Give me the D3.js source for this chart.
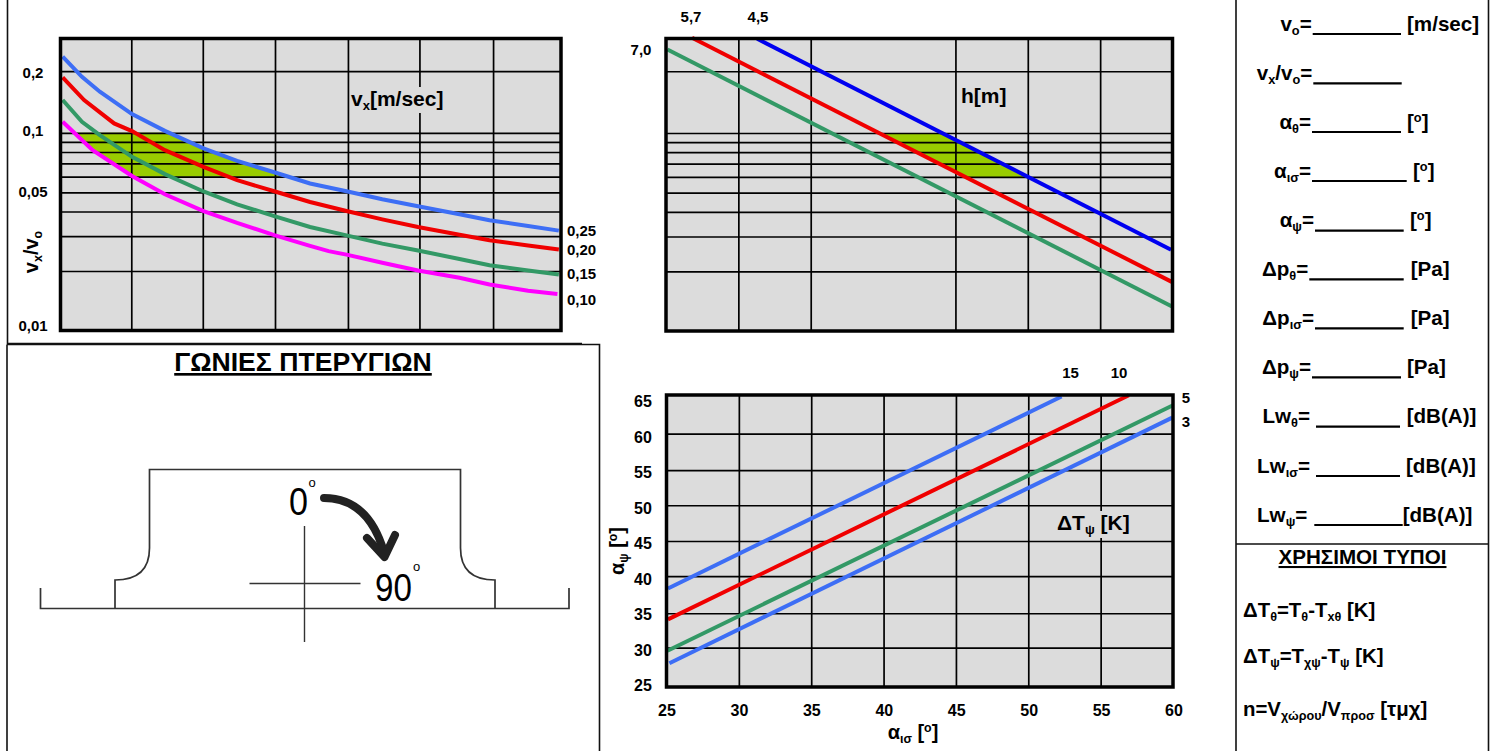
<!DOCTYPE html>
<html>
<head>
<meta charset="utf-8">
<script src="https://cdn.jsdelivr.net/npm/d3@7"></script>
<style>
  body { margin: 0; background: #fff; }
  svg { display: block; }
  text { font-family: "Liberation Sans", Arial, sans-serif; font-weight: bold; fill: #000; }
</style>
</head>
<body>
<script>
// --- chart 1: vx/vo against throw, curves per vx
const speedLabels = ["0,25", "0,20", "0,15", "0,10"];
const speedBlueX = [0.03, 0.3, 0.55, 1, 1.46, 2, 2.47, 3, 3.49, 4, 4.5, 5, 5.58, 6, 6.54, 6.97];
const speedBlueY = [0.2428, 0.192, 0.1614, 0.1244, 0.1023, 0.0834, 0.0721, 0.063, 0.0554, 0.0506, 0.0461, 0.0425, 0.0387, 0.0361, 0.0338, 0.032];
const speedRedX = [0.03, 0.33, 0.75, 1, 1.46, 2, 2.47, 3, 3.49, 4, 4.5, 5, 5.58, 6, 6.54, 6.97];
const speedRedY = [0.1909, 0.1465, 0.1116, 0.102, 0.0817, 0.0673, 0.0576, 0.0505, 0.0447, 0.0402, 0.0365, 0.0334, 0.0305, 0.0286, 0.0269, 0.0257];
const speedGreenX = [0.03, 0.3, 0.55, 1, 1.46, 2, 2.47, 3, 3.49, 4, 4.5, 5, 5.58, 6, 6.54, 6.97];
const speedGreenY = [0.1465, 0.1137, 0.0973, 0.0756, 0.0618, 0.0505, 0.0435, 0.0378, 0.0334, 0.0303, 0.0275, 0.0254, 0.023, 0.0214, 0.0201, 0.0192];
const speedPinkX = [0.03, 0.45, 1, 1.46, 2, 2.47, 3, 3.49, 3.75, 4, 4.5, 5, 5.58, 6, 6.54, 6.95];
const speedPinkY = [0.1137, 0.0817, 0.0605, 0.0489, 0.0402, 0.035, 0.0303, 0.0268, 0.0252, 0.0242, 0.022, 0.0201, 0.0185, 0.0171, 0.0159, 0.0153];
const speedGridX = [0.99, 1.99, 3, 4.02, 5.02, 6.05];
const ratioGrid = [0.205, 0.1, 0.09, 0.08, 0.07, 0.06, 0.05, 0.04, 0.03, 0.02];
const ratioLabels = ["0,2", "0,1", "0,05", "0,01"];

// --- chart 2: h[m]
const heightLabels = ["5,7", "4,5", "7,0"];
const heightBlueX = [31.3, 59.9];
const heightBlueY = [0.299, 0.0257];
const heightRedX = [26.8, 59.95];
const heightRedY = [0.3024, 0.0177];
const heightGreenX = [25.1, 60];
const heightGreenY = [0.2638, 0.01327];
const heightGridX = [30, 35, 45, 50, 55];

// --- chart 3: angle
const angleTicks = [25, 30, 35, 40, 45, 50, 55, 60];
const psiTicks = [25, 30, 35, 40, 45, 50, 55, 60, 65];
const psiGrid = [30.4, 35.1, 40.2, 45, 49.9, 54.7, 59.7];
const dtLabels = ["15", "10", "5", "3"];
const dt15X = [25.1, 52.3];
const dt15Y = [38.5, 64.8];
const dt10X = [25.1, 56.95];
const dt10Y = [34.27, 64.96];
const dt5X = [25.07, 60];
const dt5Y = [29.97, 63.6];
const dt3X = [25.2, 59.95];
const dt3Y = [28.25, 61.9];

const BLUE = "#3d6ef5", RED = "#f00000", GREEN = "#339966", PINK = "#ff00ff", DEEP = "#0000f0", FILL = "#99cc00";

const svg = d3.select("body").append("svg").attr("width", 1497).attr("height", 751);
svg.append("rect").attr("width", 1497).attr("height", 751).attr("fill", "#fff");
const defs = svg.append("defs");

function zip(xs, ys) { return xs.map((x, i) => [x, ys[i]]); }

// segments: plain string, or [text, "sub"] / [text, "sup"]
function rich(parent, x, y, size, segs, anchor) {
  const t = parent.append("text").attr("x", x).attr("y", y)
    .attr("font-size", size).attr("text-anchor", anchor || "start");
  let shift = 0;
  segs.forEach(s => {
    const kind = Array.isArray(s) ? s[1] : null;
    const want = kind === "sub" ? size * 0.2 : kind === "sup" ? -size * 0.35 : 0;
    t.append("tspan").attr("dy", want - shift)
      .attr("font-size", kind ? size * 0.62 : size)
      .text(Array.isArray(s) ? s[0] : s);
    shift = want;
  });
  return t;
}

function drawGrid(parent, box, x, y, gridX, gridY) {
  const gx = parent.append("g").attr("transform", "translate(0," + box.bottom + ")")
    .call(d3.axisBottom(x).tickValues(gridX).tickSize(box.top - box.bottom).tickFormat(""));
  const gy = parent.append("g").attr("transform", "translate(" + box.left + ",0)")
    .call(d3.axisLeft(y).tickValues(gridY).tickSize(box.left - box.right).tickFormat(""));
  [gx, gy].forEach(a => {
    a.select(".domain").remove();
    a.selectAll("line").attr("stroke", "#000").attr("stroke-width", 1.7);
  });
}

function plot(box) {
  svg.append("rect").attr("x", box.left).attr("y", box.top)
    .attr("width", box.right - box.left).attr("height", box.bottom - box.top).attr("fill", "#dcdcdc");
}

function frame(box) {
  svg.append("rect").attr("x", box.left).attr("y", box.top)
    .attr("width", box.right - box.left).attr("height", box.bottom - box.top)
    .attr("fill", "none").attr("stroke", "#000").attr("stroke-width", 3.5);
}

function curve(x, y, pts, color) {
  svg.append("path").attr("d", d3.line().x(d => x(d[0])).y(d => y(d[1]))(pts))
    .attr("fill", "none").attr("stroke", color).attr("stroke-width", 4);
}

// operating band between two curves, cut to the 0.1 .. 0.06 rows
function band(id, box, x, y, upper, lower) {
  defs.append("clipPath").attr("id", id).append("rect")
    .attr("x", box.left).attr("width", box.right - box.left)
    .attr("y", y(0.1)).attr("height", y(0.06) - y(0.1));
  svg.append("path").attr("clip-path", "url(#" + id + ")")
    .attr("d", d3.line().x(d => x(d[0])).y(d => y(d[1]))(upper.concat(lower.slice().reverse())) + "Z")
    .attr("fill", FILL);
}

function patch(x, y, w, h) {
  svg.append("rect").attr("x", x).attr("y", y).attr("width", w).attr("height", h).attr("fill", "#dcdcdc");
}

// ---------- chart 1
const box1 = { left: 60.5, right: 561, top: 38.5, bottom: 330.5 };
const x1 = d3.scaleLinear().domain([0, 7]).range([box1.left, box1.right]);
const y1 = d3.scaleLog().domain([0.01, 0.3]).range([box1.bottom, box1.top]);
plot(box1);
const pinkPts = zip(speedPinkX, speedPinkY), bluePts = zip(speedBlueX, speedBlueY);
band("band1", box1, x1, y1, bluePts, pinkPts);
drawGrid(svg, box1, x1, y1, speedGridX, ratioGrid);
patch(350, 87, 95, 26);
curve(x1, y1, bluePts, BLUE);
curve(x1, y1, zip(speedRedX, speedRedY), RED);
curve(x1, y1, zip(speedGreenX, speedGreenY), GREEN);
curve(x1, y1, pinkPts, PINK);
frame(box1);
rich(svg, 351, 106, 21, ["v", ["x", "sub"], "[m/sec]"]);

const leftPos1 = [78, 136, 197, 331];
ratioLabels.forEach((t, i) => {
  svg.append("text").attr("x", 33).attr("y", leftPos1[i]).attr("text-anchor", "middle")
    .attr("font-size", 15).text(t);
});
const rightPos1 = [236, 255, 278.5, 305];
speedLabels.forEach((t, i) => {
  svg.append("text").attr("x", 567).attr("y", rightPos1[i]).attr("font-size", 15).text(t);
});
rich(svg, 0, 0, 20, ["v", ["x", "sub"], "/v", ["o", "sub"]], "middle")
  .attr("x", null).attr("y", null).attr("transform", "translate(38,252) rotate(-90)");

// ---------- chart 2
const box2 = { left: 666, right: 1172.5, top: 38.5, bottom: 331 };
const x2 = d3.scaleLinear().domain([25, 60]).range([box2.left, box2.right]);
const y2 = d3.scaleLog().domain([0.01, 0.3]).range([box2.bottom, box2.top]);
plot(box2);
const deepPts = zip(heightBlueX, heightBlueY), redPts = zip(heightRedX, heightRedY);
band("band2", box2, x2, y2, deepPts, redPts);
drawGrid(svg, box2, x2, y2, heightGridX, ratioGrid);
curve(x2, y2, deepPts, DEEP);
curve(x2, y2, redPts, RED);
curve(x2, y2, zip(heightGreenX, heightGreenY), GREEN);
frame(box2);
rich(svg, 961, 103, 21, ["h[m]"]);
[[691, 22], [758, 22], [641, 55]].forEach((p, i) => {
  svg.append("text").attr("x", p[0]).attr("y", p[1]).attr("text-anchor", "middle")
    .attr("font-size", 15).text(heightLabels[i]);
});

// ---------- chart 3
const box3 = { left: 666.5, right: 1173, top: 395, bottom: 687 };
const x3 = d3.scaleLinear().domain([25, 60]).range([box3.left, box3.right]);
const y3 = d3.scaleLinear().domain([25, 65]).range([box3.bottom, box3.top]);
plot(box3);
drawGrid(svg, box3, x3, y3, angleTicks.slice(1, -1), psiGrid);
patch(1056, 511, 76, 27);
curve(x3, y3, zip(dt15X, dt15Y), BLUE);
curve(x3, y3, zip(dt10X, dt10Y), RED);
curve(x3, y3, zip(dt5X, dt5Y), GREEN);
curve(x3, y3, zip(dt3X, dt3Y), BLUE);
frame(box3);
rich(svg, 1057, 530, 21, ["ΔT", ["ψ", "sub"], " [K]"]);

// tick labels sit a little off the grid in the original
const psiLabelY = d3.scaleLinear().domain([25, 65]).range([691, 407]);
psiTicks.forEach(v => {
  svg.append("text").attr("x", 643).attr("y", psiLabelY(v)).attr("text-anchor", "middle")
    .attr("font-size", 16).text(v);
});
const angleLabelX = d3.scaleLinear().domain([25, 60]).range([667, 1174]);
angleTicks.forEach(v => {
  svg.append("text").attr("x", angleLabelX(v)).attr("y", 716).attr("text-anchor", "middle")
    .attr("font-size", 16).text(v);
});
[[1070.5, 378], [1119, 378], [1186, 403], [1186, 427]].forEach((p, i) => {
  svg.append("text").attr("x", p[0]).attr("y", p[1]).attr("text-anchor", "middle")
    .attr("font-size", 15).text(dtLabels[i]);
});
rich(svg, 913, 739, 20, ["α", ["ισ", "sub"], " [", ["o", "sup"], "]"], "middle");
rich(svg, 0, 0, 20, ["α", ["ψ", "sub"], " [", ["o", "sup"], "]"], "middle")
  .attr("x", null).attr("y", null).attr("transform", "translate(624,551) rotate(-90)");

// ---------- panel borders
svg.append("path").attr("fill", "none").attr("stroke", "#111").attr("stroke-width", 1.6)
  .attr("d", "M7.5,0V343.5H582 M7,344.5H599.5V751 M7,344.5V751 M1236,0V751 M1488.5,0V751 M1236,544H1488.5");

// ---------- blade angle sketch
rich(svg, 303, 371, 26.6, ["ΓΩΝΙΕΣ ΠΤΕΡΥΓΙΩΝ"], "middle").attr("text-decoration", "underline");
const sketch = svg.append("g").attr("fill", "none").attr("stroke", "#333");
sketch.append("path").attr("stroke-width", 1.7)
  .attr("d", "M40.5,588V608.5H569V588 M115,608.5V580Q149.5,580 149.5,548V469.5H460.5V548Q460.5,580 495,580V608.5");
sketch.append("path").attr("stroke-width", 1.4).attr("d", "M304.5,526V642 M249.5,583.5H360.5");
sketch.append("path").attr("stroke", "#222").attr("stroke-width", 8).attr("stroke-linecap", "round")
  .attr("d", "M324,498Q368,498 384,552");
sketch.append("path").attr("stroke", "#222").attr("stroke-width", 8).attr("stroke-linecap", "round")
  .attr("stroke-linejoin", "round").attr("d", "M367,538L384.5,557L395,535");
// narrow thin digits of the sketch
const thin = (x, y, size, t, sx) => {
  svg.append("text").attr("transform", "translate(" + x + "," + y + ") scale(" + sx + ",1)")
    .attr("font-size", size).style("font-weight", "normal").text(t);
};
thin(289, 515, 39, "0", 0.875);
thin(375, 601, 39, "90", 0.85);
thin(308.5, 487, 13, "o", 1);
thin(413, 571, 13, "o", 1);

// ---------- right column
const DEG = ["[", ["o", "sup"], "]"];
const formRows = [
  { label: ["v", ["o", "sub"], "="], from: 1312.7, to: 1401, lineY: 34, base: 31, unit: ["[m/sec]"], unitX: 1407 },
  { label: ["v", ["x", "sub"], "/v", ["o", "sub"], "="], from: 1313.3, to: 1401.7, lineY: 83.3, base: 80, unit: [], unitX: 0 },
  { label: ["α", ["θ", "sub"], "="], from: 1312, to: 1401, lineY: 132, base: 129, unit: DEG, unitX: 1407 },
  { label: ["α", ["ισ", "sub"], "="], from: 1312, to: 1406.7, lineY: 181, base: 178, unit: DEG, unitX: 1413 },
  { label: ["α", ["ψ", "sub"], "="], from: 1315, to: 1403.7, lineY: 230.7, base: 227, unit: DEG, unitX: 1410 },
  { label: ["Δp", ["θ", "sub"], "="], from: 1309.3, to: 1403.7, lineY: 279.3, base: 276, unit: ["[Pa]"], unitX: 1410.7 },
  { label: ["Δp", ["ισ", "sub"], "="], from: 1315, to: 1403.7, lineY: 328.3, base: 325, unit: ["[Pa]"], unitX: 1410.7 },
  { label: ["Δp", ["ψ", "sub"], "="], from: 1312, to: 1401, lineY: 377.3, base: 373.5, unit: ["[Pa]"], unitX: 1407 },
  { label: ["Lw", ["θ", "sub"], "="], from: 1316, to: 1400, lineY: 426.7, base: 423, unit: ["[dB(A)]"], unitX: 1406.7, gap: 6 },
  { label: ["Lw", ["ισ", "sub"], "="], from: 1316, to: 1400, lineY: 476, base: 473, unit: ["[dB(A)]"], unitX: 1406, gap: 6 },
  { label: ["Lw", ["ψ", "sub"], "="], from: 1314.3, to: 1402.7, lineY: 525, base: 522, unit: ["[dB(A)]"], unitX: 1402.7, gap: 7 }
];
formRows.forEach(r => {
  rich(svg, r.from - (r.gap || 1), r.base, 20.6, r.label, "end");
  svg.append("line").attr("x1", r.from).attr("x2", r.to).attr("y1", r.lineY).attr("y2", r.lineY)
    .attr("stroke", "#000").attr("stroke-width", 2.2);
  if (r.unit.length) rich(svg, r.unitX, r.base, 20.6, r.unit);
});
rich(svg, 1362.5, 564, 20.6, ["ΧΡΗΣΙΜΟΙ ΤΥΠΟΙ"], "middle").attr("text-decoration", "underline");
rich(svg, 1243, 617, 20.4, ["ΔT", ["θ", "sub"], "=T", ["θ", "sub"], "-T", ["xθ", "sub"], " [K]"]);
rich(svg, 1243, 663, 20.4, ["ΔT", ["ψ", "sub"], "=T", ["χψ", "sub"], "-T", ["ψ", "sub"], " [K]"]);
rich(svg, 1243, 716, 20.4, ["n=V", ["χώρου", "sub"], "/V", ["προσ", "sub"], " [τμχ]"]);
</script>
</body>
</html>
